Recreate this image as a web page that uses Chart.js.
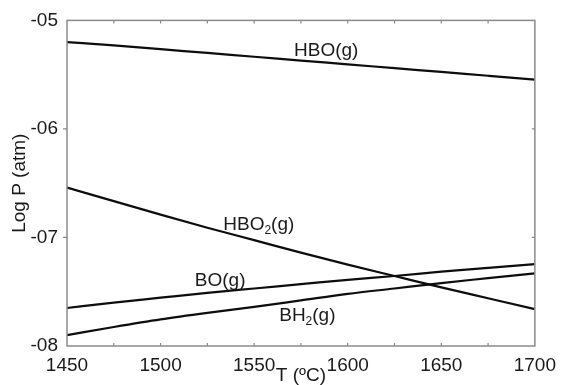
<!DOCTYPE html>
<html>
<head>
<meta charset="utf-8">
<script src="https://cdn.jsdelivr.net/npm/chart.js@4.4.1/dist/chart.umd.min.js"></script>
<style>
  html, body { margin: 0; padding: 0; background: #fff; }
  #wrap { width: 564px; height: 385px; position: relative; }
</style>
</head>
<body>
<div id="wrap"><canvas id="c" width="564" height="385"></canvas></div>
<script>
// Temperature grid (°C)
const temps = [1450, 1475, 1500, 1525, 1550, 1575, 1600, 1625, 1650, 1675, 1700];

// Log partial pressures (atm)
const hbo  = [-5.20, -5.23, -5.265, -5.30, -5.335, -5.37, -5.405, -5.44, -5.475, -5.51, -5.545];
const hbo2 = [-6.54, -6.665, -6.79, -6.91, -7.025, -7.14, -7.25, -7.355, -7.46, -7.56, -7.66];
const bo   = [-7.65, -7.60, -7.555, -7.51, -7.47, -7.43, -7.39, -7.355, -7.315, -7.28, -7.245];
const bh2  = [-7.90, -7.825, -7.755, -7.695, -7.64, -7.58, -7.52, -7.47, -7.42, -7.375, -7.33];

// Axis tick values
const xTicks = [1450, 1500, 1550, 1600, 1650, 1700];
const xMinorTicks = [1475, 1500, 1525, 1550, 1575, 1600, 1625, 1650, 1675];
const yTicks = [-5, -6, -7, -8];
const yInnerTicks = [-6, -7];

// Species labels: [main text, subscript, rest, T, log P at baseline]
const speciesLabels = [
  ['HBO', '', '(g)', 1571.3, -5.331],
  ['HBO', '2', '(g)', 1533.5, -6.932],
  ['BO', '', '(g)', 1518.3, -7.448],
  ['BH', '2', '(g)', 1563.4, -7.770]
];

const FONT = "'Liberation Sans', Arial, sans-serif";
const TEXT = '#1a1a1a';

function series(vals) {
  return temps.map((t, i) => ({ x: t, y: vals[i] }));
}

const frameAndTicks = {
  id: 'frameAndTicks',
  afterDatasetsDraw(chart) {
    const { ctx, chartArea: a, scales: { x, y } } = chart;
    ctx.save();
    ctx.strokeStyle = '#8a8a8a';
    ctx.lineWidth = 1.5;
    ctx.strokeRect(a.left, a.top, a.right - a.left, a.bottom - a.top);
    ctx.lineWidth = 1.2;
    ctx.beginPath();
    xMinorTicks.forEach(v => {
      const px = x.getPixelForValue(v);
      ctx.moveTo(px, a.bottom); ctx.lineTo(px, a.bottom - 3);
      ctx.moveTo(px, a.top); ctx.lineTo(px, a.top + 3);
    });
    yInnerTicks.forEach(v => {
      const py = y.getPixelForValue(v);
      ctx.moveTo(a.left, py); ctx.lineTo(a.left - 4, py);
      ctx.moveTo(a.right, py); ctx.lineTo(a.right - 3, py);
    });
    ctx.stroke();
    ctx.restore();
  }
};

const speciesText = {
  id: 'speciesText',
  afterDatasetsDraw(chart) {
    const { ctx, scales: { x, y } } = chart;
    ctx.save();
    ctx.fillStyle = TEXT;
    ctx.textBaseline = 'alphabetic';
    ctx.textAlign = 'left';
    speciesLabels.forEach(([main, sub, rest, t, v]) => {
      let px = x.getPixelForValue(t);
      const py = y.getPixelForValue(v);
      ctx.font = '19px ' + FONT;
      ctx.fillText(main, px, py);
      px += ctx.measureText(main).width;
      if (sub) {
        ctx.font = '12px ' + FONT;
        ctx.fillText(sub, px, py + 4);
        px += ctx.measureText(sub).width;
        ctx.font = '19px ' + FONT;
      }
      ctx.fillText(rest, px, py);
    });
    ctx.restore();
  }
};

const lineStyle = {
  borderColor: '#0d0d0d',
  borderWidth: 2.2,
  pointRadius: 0,
  fill: false,
  cubicInterpolationMode: 'monotone'
};

new Chart(document.getElementById('c'), {
  type: 'line',
  data: {
    datasets: [
      Object.assign({ label: 'HBO(g)', data: series(hbo) }, lineStyle),
      Object.assign({ label: 'HBO2(g)', data: series(hbo2) }, lineStyle),
      Object.assign({ label: 'BO(g)', data: series(bo) }, lineStyle),
      Object.assign({ label: 'BH2(g)', data: series(bh2) }, lineStyle)
    ]
  },
  options: {
    responsive: false,
    animation: false,
    events: [],
    layout: { padding: { top: 20, right: 21, left: 0, bottom: 0 } },
    plugins: { legend: { display: false }, tooltip: { enabled: false } },
    scales: {
      x: {
        type: 'linear',
        min: 1450, max: 1700,
        afterBuildTicks(scale) { scale.ticks = xTicks.map(v => ({ value: v })); },
        afterFit(scale) { scale.height = 39; },
        grid: { display: false, drawTicks: false },
        border: { display: false },
        ticks: {
          color: TEXT, font: { family: FONT, size: 19 }, padding: 8, maxRotation: 0,
          callback: v => String(v)
        },
        title: {
          display: true, text: 'T (ºC)', color: TEXT,
          font: { family: FONT, size: 19, lineHeight: 1 },
          padding: { top: 0, bottom: 0 }
        }
      },
      y: {
        min: -8, max: -5,
        afterBuildTicks(scale) { scale.ticks = yTicks.map(v => ({ value: v })); },
        afterFit(scale) { scale.width = 67; },
        grid: { display: false, drawTicks: false },
        border: { display: false },
        ticks: {
          color: TEXT, font: { family: FONT, size: 19 }, padding: 9,
          callback: v => '-0' + Math.abs(v)
        },
        title: {
          display: true, text: 'Log P (atm)', color: TEXT,
          font: { family: FONT, size: 19, lineHeight: 1 },
          padding: { top: 10, bottom: 0 }
        }
      }
    }
  },
  plugins: [frameAndTicks, speciesText]
});
</script>
</body>
</html>
